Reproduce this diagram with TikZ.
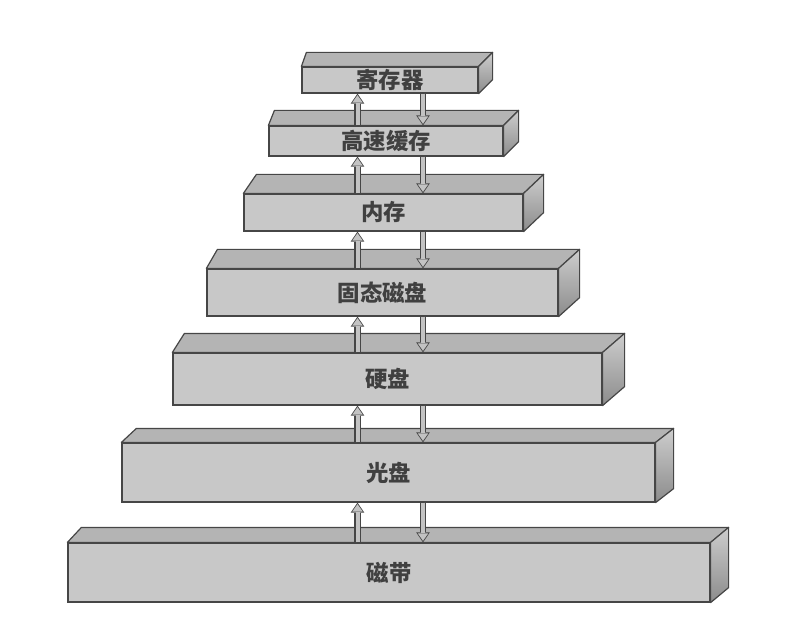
\documentclass[tikz,border=0pt]{standalone}
\usepackage{fontspec}
\newfontfamily\cjk{Noto Sans CJK SC}
\usetikzlibrary{arrows.meta,calc}
\definecolor{edge}{RGB}{70,70,70}
\definecolor{frontgray}{RGB}{200,200,200}
\definecolor{topgray}{RGB}{180,180,180}
\definecolor{sidelight}{RGB}{205,205,205}
\definecolor{sidedark}{RGB}{140,140,140}
\definecolor{arrowgray}{RGB}{195,195,195}
\tikzset{
    front/.style={rectangle, draw=edge, fill=frontgray, line width=0.6pt, inner sep=0pt, text=black!75, font=\cjk\bfseries\fontsize{11.2}{13}\selectfont},
    topface/.style={draw=edge, fill=topgray, line width=0.6pt, line join=round},
    sideface/.style={draw=edge, line width=0.6pt, line join=round, top color=sidelight, bottom color=sidedark},
    fatout/.style={line width=3.2pt, draw=edge, -{Triangle[length=5pt,width=6.8pt,line width=0pt]}},
    fatin/.style={line width=2pt, draw=arrowgray, shorten >=0.8pt, -{Triangle[length=3.7pt,width=5.2pt,line width=0pt]}},
}
\begin{document}
\begin{tikzpicture}[x=0.5pt,y=-0.5pt]
  \useasboundingbox (0,0) rectangle (792,620);

  % the storage levels, front face first, then top and side
  \foreach \n/\xa/\xb/\ya/\yb/\dl/\dr/\dd/\lab in {
      reg/302/478/67/93/5/14/14/寄存器,
      cache/269/503/126/156/6/15/15/高速缓存,
      mem/244/523/194/231/13/20/19/内存,
      ssd/207/558/269/316/11/21/19/固态磁盘,
      hdd/173/602/353/405/12/22/19/硬盘,
      cd/122/655/443/502/15/18/14/光盘,
      tape/68/710/543/602/14/18/15/磁带}
  {
    \node[front, minimum width={(\xb-\xa)*0.5pt}, minimum height={(\yb-\ya)*0.5pt}] (\n) at ({(\xa+\xb)/2},{(\ya+\yb)/2}) {\lab};
    \draw[topface] (\n.north west) -- ++(\dl,-\dd) -- ($(\n.north east)+(\dr,-\dd)$) -- (\n.north east) -- cycle;
    \draw[sideface] (\n.north east) -- ++(\dr,-\dd) -- ($(\n.south east)+(\dr,-\dd)$) -- (\n.south east) -- cycle;
  }

  % up and down arrows between neighbouring levels
  \coordinate (up) at (357.5,0);
  \coordinate (dn) at (423,0);
  \foreach \a/\b in {reg/cache, cache/mem, mem/ssd, ssd/hdd, hdd/cd, cd/tape}
  {
    \draw[fatout] (up |- \b.north) -- (up |- \a.south);
    \draw[fatin]  (up |- \b.north) -- (up |- \a.south);
    \draw[fatout] (dn |- \a.south) -- (dn |- \b.north);
    \draw[fatin]  (dn |- \a.south) -- (dn |- \b.north);
  }
\end{tikzpicture}
\end{document}
